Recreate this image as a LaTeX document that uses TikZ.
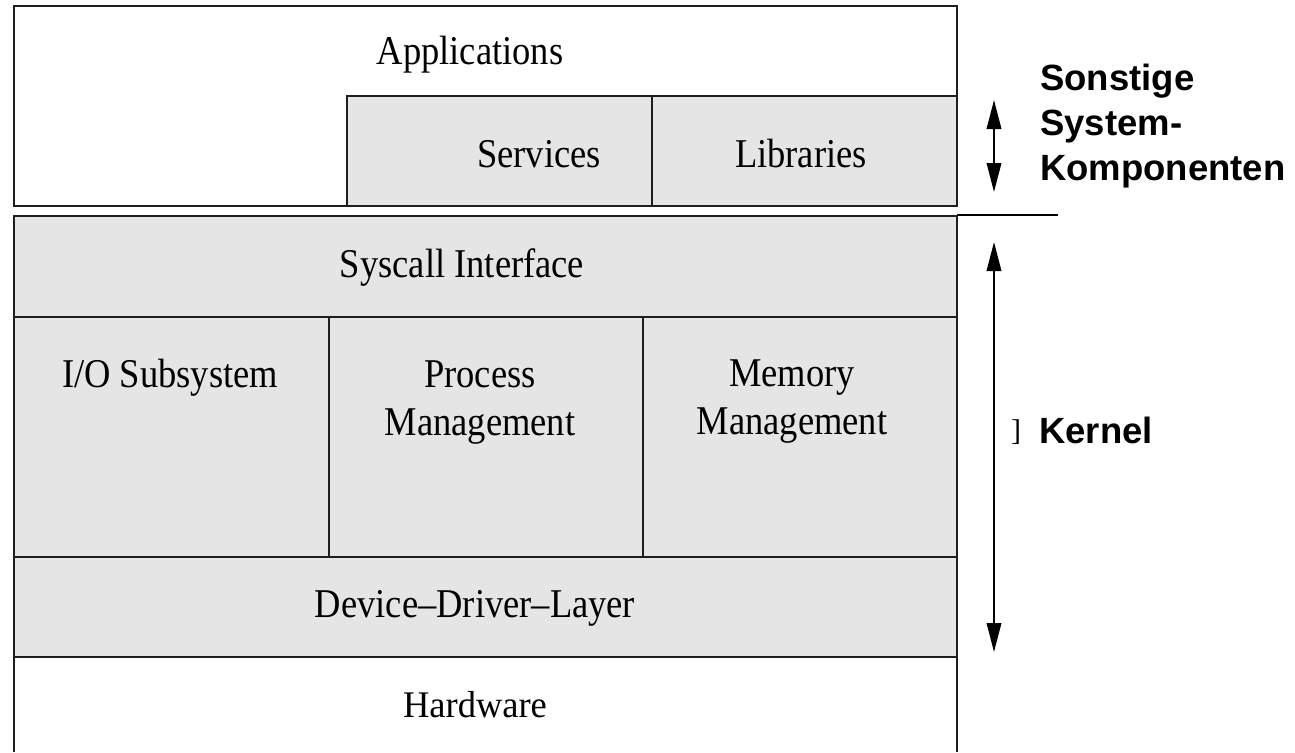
\documentclass[tikz,border=0pt]{standalone}
\usepackage{fontspec}
\setmainfont{Liberation Serif}
\newfontfamily\sidefont{Liberation Sans}
\usetikzlibrary{arrows.meta}
\definecolor{layergray}{RGB}{229,229,229}
\definecolor{edge}{RGB}{30,30,30}
% serif layer names are set slightly taller than wide
\newcommand\stretchtext[2][1.12]{\scalebox{1}[#1]{#2}}

\begin{document}
\begin{tikzpicture}[x=1pt,y=-1pt,
  layer/.style={draw=edge, line width=2pt, fill=layergray, inner sep=0pt, outer sep=0pt, anchor=north west},
  plain/.style={layer, fill=white},
  lbl/.style={inner sep=0pt, anchor=base, font=\fontsize{36.5}{43.5}\selectfont},
  side/.style={inner sep=0pt, anchor=base west, align=left, font=\sidefont\bfseries\fontsize{36.5}{45}\selectfont},
  span/.style={draw=black, line width=2pt, {Triangle[length=29pt,width=14.5pt]}-{Triangle[length=29pt,width=14.5pt]}},
]
\useasboundingbox[fill=white] (0,0) rectangle (1295,752);

% user-space layer
\node[plain, minimum width=943pt, minimum height=200pt] (apps) at (14,6) {};
\node[layer, minimum width=305pt, minimum height=110pt] (serv) at (347,96) {};
\node[layer, minimum width=305pt, minimum height=110pt] (libs) at (652,96) {};

% kernel layers
\node[layer, minimum width=943pt, minimum height=101pt] (sysc) at (14,216) {};
\node[layer, minimum width=315pt, minimum height=240pt] (io)   at (14,317) {};
\node[layer, minimum width=314pt, minimum height=240pt] (proc) at (329,317) {};
\node[layer, minimum width=314pt, minimum height=240pt] (mem)  at (643,317) {};
\node[layer, minimum width=943pt, minimum height=100pt] (dev)  at (14,557) {};

% hardware, open at the bottom
\node[inner sep=0pt, outer sep=0pt, anchor=north west, minimum width=943pt, minimum height=95pt] (hw) at (14,657) {};
\draw[draw=edge, line width=2pt] (hw.south west) -- (hw.north west) -- (hw.north east) -- (hw.south east);

% layer names
\node[lbl] (tApps) at (470,65)  {\stretchtext{Applications}};
\node[lbl] (tServ) at (539,167) {\stretchtext{Services}};
\node[lbl] (tLibs) at (801,167) {\stretchtext{Libraries}};
\node[lbl] (tSysc) at (462,277) {\stretchtext{Syscall Interface}};
\node[lbl] (tIo)   at (170,387) {\stretchtext{I/O Subsystem}};
\node[lbl] (tProc) at (480,387) {\stretchtext{\begin{tabular}[t]{@{}c@{}}Process\\Management\end{tabular}}};
\node[lbl] (tMem)  at (792,386) {\stretchtext{\begin{tabular}[t]{@{}c@{}}Memory\\Management\end{tabular}}};
\node[lbl] (tDev)  at (475,617) {\stretchtext{Device--Driver--Layer}};
\node[lbl] (tHw)   at (475,717) {\stretchtext[1.03]{Hardware}};

% boundary between user space and kernel
\coordinate (sepEnd) at (1058,215);
\draw[draw=black, line width=2.2pt] (sysc.north east) ++(0,-1) -- (sepEnd);

% extent markers
\coordinate (uTop) at (994,100);
\coordinate (uBot) at (994,192);
\draw[span] (uTop) -- (uBot);
\coordinate (kTop) at (994,242);
\coordinate (kBot) at (994,652);
\draw[span] (kTop) -- (kBot);

% side captions (base anchor sits on the last line)
\node[side] (sonst) at (1040,180) {Sonstige\\System-\\Komponenten};
\node[side] (kern) at (1039,443) {Kernel};
\node[inner sep=0pt, font=\fontsize{30}{34}\selectfont] (brk) at (1016,432) {]};
\end{tikzpicture}
\end{document}
